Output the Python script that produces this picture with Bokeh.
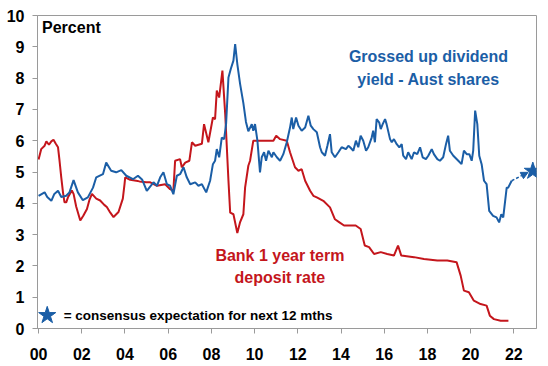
from bokeh.plotting import figure
from bokeh.models import Label, Arrow, NormalHead, FixedTicker
from bokeh.embed import file_html
from bokeh.resources import INLINE

# ---- data ----
div_years = [2000.00, 2000.28, 2000.40, 2000.59, 2000.73, 2000.90, 2001.05, 2001.28, 2001.43, 2001.62,
             2001.82, 2002.05, 2002.28, 2002.52, 2002.67, 2002.98, 2003.13, 2003.36, 2003.59, 2003.83,
             2004.06, 2004.37, 2004.60, 2004.80, 2005.01, 2005.32, 2005.48, 2005.63, 2005.78, 2005.94,
             2006.09, 2006.24, 2006.40, 2006.55, 2006.71, 2006.86, 2007.02, 2007.25, 2007.40, 2007.56,
             2007.76, 2007.94, 2008.07, 2008.17, 2008.25, 2008.36, 2008.48, 2008.59, 2008.68, 2008.79,
             2008.90, 2009.02, 2009.10, 2009.20, 2009.33, 2009.48, 2009.60, 2009.71, 2009.87, 2009.94,
             2010.02, 2010.13, 2010.25, 2010.33, 2010.44, 2010.53, 2010.64, 2010.80, 2010.87, 2011.03,
             2011.18, 2011.33, 2011.49, 2011.64, 2011.72, 2011.79, 2011.92, 2012.03, 2012.18, 2012.34,
             2012.49, 2012.60, 2012.72, 2012.88, 2013.03, 2013.11, 2013.26, 2013.37, 2013.49, 2013.57,
             2013.72, 2013.88, 2014.03, 2014.23, 2014.34, 2014.42, 2014.57, 2014.69, 2014.80, 2014.91,
             2015.03, 2015.16, 2015.26, 2015.42, 2015.49, 2015.57, 2015.65, 2015.77, 2015.84, 2015.93,
             2016.04, 2016.11, 2016.27, 2016.35, 2016.45, 2016.58, 2016.70, 2016.81, 2016.88, 2017.01,
             2017.11, 2017.27, 2017.38, 2017.53, 2017.66, 2017.78, 2017.93, 2018.04, 2018.20, 2018.30,
             2018.46, 2018.58, 2018.73, 2018.86, 2018.96, 2019.04, 2019.20, 2019.43, 2019.58, 2019.69,
             2019.82, 2019.94, 2020.05, 2020.12, 2020.21, 2020.31, 2020.40, 2020.51, 2020.62, 2020.74,
             2020.86, 2021.04, 2021.20, 2021.32, 2021.42, 2021.51, 2021.67, 2021.74, 2021.90]
div_yield = [4.24, 4.35, 4.20, 4.08, 4.30, 4.40, 4.20, 4.24, 4.35, 4.74,
             4.35, 4.10, 4.19, 4.50, 4.83, 4.93, 5.30, 5.04, 4.99, 5.06,
             4.88, 4.77, 4.88, 4.75, 4.40, 4.67, 4.56, 4.83, 4.99, 4.61,
             4.56, 4.29, 4.88, 4.93, 5.15, 4.83, 4.61, 4.67, 4.56, 4.61,
             4.35, 4.72, 5.25, 5.36, 5.73, 5.47, 6.10, 6.05, 6.53, 8.02,
             8.30, 8.56, 9.09, 8.45, 7.81, 7.20, 6.60, 6.30, 6.53, 6.32,
             6.53, 6.00, 4.99, 5.47, 5.63, 5.36, 5.68, 5.47, 5.63, 5.47,
             5.36, 5.57, 5.95, 6.42, 6.74, 6.37, 6.74, 6.48, 6.32, 6.42,
             6.80, 6.48, 6.37, 6.27, 5.79, 5.63, 5.52, 5.84, 6.21, 5.63,
             5.47, 5.63, 5.79, 5.73, 5.84, 5.79, 5.68, 6.00, 5.79, 6.16,
             6.00, 5.68, 5.79, 6.10, 6.32, 5.95, 6.69, 6.58, 6.37, 6.53,
             6.69, 6.53, 6.05, 5.95, 6.05, 5.89, 5.79, 5.89, 5.52, 5.41,
             5.63, 5.41, 5.63, 5.57, 5.79, 5.47, 5.41, 5.52, 5.73, 5.57,
             5.41, 5.36, 5.47, 5.89, 6.16, 5.68, 5.52, 5.36, 5.25, 5.68,
             5.57, 5.57, 5.36, 5.68, 6.96, 6.53, 5.52, 5.25, 4.72, 4.61,
             3.76, 3.60, 3.55, 3.39, 3.65, 3.55, 4.50, 4.50, 4.72]

dep_years = [2000.00, 2000.12, 2000.28, 2000.36, 2000.48, 2000.59, 2000.69, 2000.79, 2000.90, 2000.97,
             2001.05, 2001.13, 2001.20, 2001.28, 2001.36, 2001.54, 2001.62, 2001.74, 2001.93, 2002.07,
             2002.24, 2002.35, 2002.47, 2002.67, 2002.85, 2003.04, 2003.16, 2003.32, 2003.47, 2003.70,
             2003.90, 2003.98, 2004.01, 2004.24, 2004.52, 2004.67, 2004.98, 2005.17, 2005.48, 2005.86,
             2006.09, 2006.24, 2006.32, 2006.55, 2006.63, 2006.79, 2006.98, 2007.10, 2007.25, 2007.56,
             2007.66, 2007.86, 2008.07, 2008.17, 2008.25, 2008.36, 2008.51, 2008.64, 2008.79, 2008.87,
             2009.02, 2009.20, 2009.33, 2009.48, 2009.56, 2009.71, 2009.79, 2009.94, 2010.87, 2011.00,
             2011.18, 2011.49, 2011.64, 2011.87, 2012.03, 2012.18, 2012.34, 2012.57, 2012.72, 2012.88,
             2013.18, 2013.49, 2013.72, 2013.91, 2014.14, 2014.68, 2014.91, 2015.10, 2015.30, 2015.53,
             2015.84, 2016.14, 2016.45, 2016.64, 2016.79, 2017.38, 2017.84, 2018.46, 2018.92, 2019.35,
             2019.54, 2019.69, 2019.92, 2020.15, 2020.46, 2020.74, 2020.89, 2021.08, 2021.39, 2021.75]
dep_rate = [5.40, 5.73, 5.84, 5.98, 5.87, 5.98, 6.03, 5.91, 5.79, 5.36,
            4.83, 4.35, 4.03, 4.03, 4.19, 4.41, 4.30, 3.90, 3.45, 3.60,
            3.82, 4.10, 4.30, 4.15, 4.09, 3.95, 3.88, 3.70, 3.56, 3.72,
            4.15, 4.62, 4.83, 4.75, 4.72, 4.70, 4.67, 4.67, 4.56, 4.61,
            4.45, 4.40, 5.36, 5.41, 5.15, 5.30, 5.36, 5.95, 5.84, 5.90,
            6.53, 5.95, 6.74, 6.69, 7.60, 7.38, 8.24, 6.85, 4.72, 3.70,
            3.65, 3.05, 3.40, 3.65, 4.50, 5.20, 5.36, 6.00, 6.00, 6.16,
            6.05, 6.00, 5.63, 5.15, 5.04, 5.09, 4.72, 4.40, 4.24, 4.19,
            4.08, 3.87, 3.49, 3.40, 3.29, 3.29, 3.18, 2.65, 2.60, 2.38,
            2.44, 2.38, 2.33, 2.65, 2.33, 2.28, 2.22, 2.17, 2.17, 2.12,
            1.69, 1.21, 1.16, 0.89, 0.78, 0.73, 0.41, 0.30, 0.25, 0.25]

expect_year = 2022.88
expect_yield = 5.03

x_ticks = [2000, 2002, 2004, 2006, 2008, 2010, 2012, 2014, 2016, 2018, 2020, 2022]
x_tick_labels = ["00", "02", "04", "06", "08", "10", "12", "14", "16", "18", "20", "22"]
y_ticks = [0, 1, 2, 3, 4, 5, 6, 7, 8, 9, 10]

BLUE = "#1B5EA6"
RED = "#C4161C"
GREY = "#9A9A9A"
FONT = "Liberation Sans"

p = figure(width=548, height=366, x_range=(1999.95, 2023.05), y_range=(0, 10),
           output_backend="svg", toolbar_location=None,
           min_border_left=37, min_border_right=12, min_border_top=15, min_border_bottom=38)
p.background_fill_color = "white"
p.border_fill_color = "white"
p.outline_line_color = GREY
p.outline_line_width = 1
p.xgrid.grid_line_color = None
p.ygrid.grid_line_color = None

p.xaxis.ticker = FixedTicker(ticks=x_ticks)
p.xaxis.major_label_overrides = {t: l for t, l in zip(x_ticks, x_tick_labels)}
p.yaxis.ticker = FixedTicker(ticks=y_ticks)
for ax in (p.xaxis, p.yaxis):
    ax.axis_line_color = GREY
    ax.major_tick_line_color = GREY
    ax.major_tick_out = 5
    ax.major_tick_in = 0
    ax.minor_tick_line_color = None
    ax.major_label_text_font = FONT
    ax.major_label_text_font_style = "bold"
    ax.major_label_text_font_size = "16px"
    ax.major_label_text_color = "black"
p.xaxis.major_label_standoff = 14
p.yaxis.major_label_standoff = 8

p.line(dep_years, dep_rate, line_color=RED, line_width=2)
p.line(div_years, div_yield, line_color=BLUE, line_width=2)

p.add_layout(Arrow(end=NormalHead(size=7, line_color=BLUE, fill_color=BLUE, line_width=1),
                   x_start=div_years[-1], y_start=div_yield[-1],
                   x_end=expect_year - 0.22, y_end=expect_yield - 0.04,
                   line_color=BLUE, line_width=1.5, line_dash="3 2"))
p.scatter([expect_year], [expect_yield], marker="star", size=18, color=BLUE)
p.scatter([2000.40], [0.42], marker="star", size=18, color=BLUE)

def lab(x, y, text, color, size="16px", align="center"):
    p.add_layout(Label(x=x, y=y, text=text, text_color=color, text_font=FONT,
                       text_font_style="bold", text_font_size=size, text_align=align,
                       text_baseline="alphabetic"))

lab(2000.16, 9.62, "Percent", "black", align="left")
lab(2018.05, 8.69, "Grossed up dividend", BLUE)
lab(2018.05, 7.97, "yield - Aust shares", BLUE)
lab(2011.17, 2.34, "Bank 1 year term", RED)
lab(2011.17, 1.63, "deposit rate", RED)
lab(2001.16, 0.42, "= consensus expectation for next 12 mths", "black", size="13.5px", align="left")

open("out.html", "w").write(file_html(p, INLINE))
